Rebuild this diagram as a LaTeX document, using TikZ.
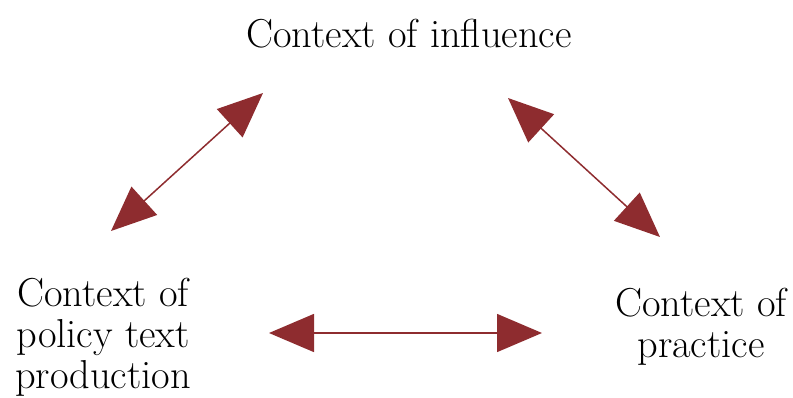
\documentclass[tikz,border=0pt]{standalone}
\usetikzlibrary{arrows.meta}
\definecolor{arrowred}{RGB}{142,44,47}

\begin{document}
\begin{tikzpicture}[x=0.5pt, y=-0.5pt,
                    ctx/.style={font=\fontsize{20.2}{20.5}\selectfont, align=center, inner sep=0pt, anchor=base},
                    link/.style={draw=arrowred, line width=0.75pt,
                                 {Triangle[length=22.5pt, width=19pt]}-{Triangle[length=22.5pt, width=19pt]}}
                    ]
    \useasboundingbox (0,0) rectangle (793,397);

    \node[ctx] (influence) at (409,47)  {Context of influence};
    \node[ctx] (policy)    at (103,388) {Context of\\policy text\\production};
    \node[ctx] (practice)  at (701,357) {Context of\\practice};

    \coordinate (IPa) at (263,93);
    \coordinate (IPb) at (111,231);
    \coordinate (IRa) at (508,98);
    \coordinate (IRb) at (660,237);
    \coordinate (PRa) at (269,333);
    \coordinate (PRb) at (542,333);

    \draw[link] (IPa) -- (IPb);
    \draw[link] (IRa) -- (IRb);
    \draw[link] (PRa) -- (PRb);
\end{tikzpicture}
\end{document}
